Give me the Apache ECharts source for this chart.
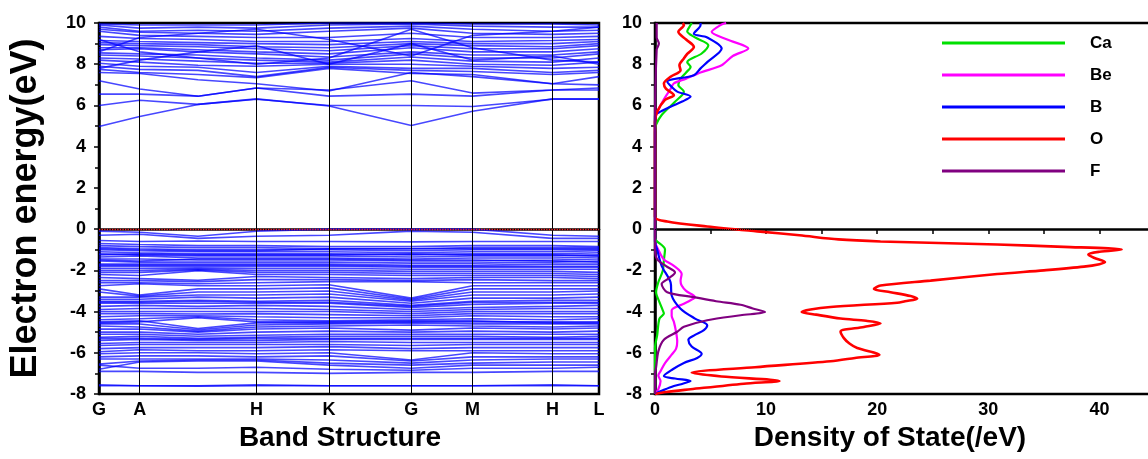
<!DOCTYPE html>
<html>
<head>
<meta charset="utf-8">
<script src="https://cdn.jsdelivr.net/npm/echarts@6/dist/echarts.min.js"></script>
<style>html,body{margin:0;padding:0;background:#fff}#c{width:1148px;height:459px}</style>
</head>
<body>
<div id="c"></div>
<script>
// k-path positions (G, A, mid A-H, H, K, G, M, H, L)
const kPos = [0, 40.7, 99, 157.5, 230, 312.3, 373.5, 453.4, 500];
const symPos = [0, 40.7, 157.5, 230, 312.3, 373.5, 453.4, 500];
const symLabels = ['G', 'A', 'H', 'K', 'G', 'M', 'H', 'L'];
const energyTicks = [-8, -6, -4, -2, 0, 2, 4, 6, 8, 10];

// conduction bands (eV) at kPos
const condBands = [
  [4.98, 5.46, 6.05, 6.32, 5.97, 5.03, 5.72, 6.32, 6.32],
  [6.0, 6.25, 6.05, 6.3, 6.0, 6.0, 5.95, 6.3, 6.3],
  [6.55, 6.55, 6.45, 6.85, 6.45, 6.55, 6.45, 6.75, 6.75],
  [7.2, 6.8, 6.45, 6.85, 6.75, 7.2, 6.6, 6.75, 6.85],
  [7.6, 7.55, 7.25, 7.05, 6.7, 7.6, 7.4, 7.05, 7.0],
  [7.75, 7.6, 7.5, 7.35, 7.8, 7.55, 7.5, 7.05, 7.4],
  [7.9, 7.75, 7.7, 7.4, 7.85, 7.7, 7.65, 7.5, 7.6],
  [8.05, 7.9, 7.85, 7.6, 7.9, 7.8, 7.8, 7.6, 7.7],
  [8.2, 8.1, 7.95, 7.9, 8.0, 8.0, 7.9, 7.8, 7.85],
  [8.3, 8.25, 8.15, 8.05, 8.05, 8.2, 8.0, 7.95, 8.1],
  [8.45, 8.4, 8.3, 8.2, 8.1, 8.35, 8.15, 8.1, 8.3],
  [8.55, 8.5, 8.45, 8.3, 8.2, 8.5, 8.3, 8.3, 8.5],
  [8.7, 8.75, 8.6, 8.5, 8.35, 8.6, 8.45, 8.45, 8.6],
  [8.8, 8.8, 8.7, 8.6, 8.5, 8.8, 8.6, 8.6, 8.75],
  [8.95, 8.9, 8.85, 8.75, 8.65, 8.9, 8.75, 8.75, 8.9],
  [9.05, 9.0, 8.95, 8.85, 8.8, 9.0, 8.9, 8.85, 9.0],
  [9.15, 9.1, 9.05, 9.0, 8.95, 9.1, 9.0, 9.0, 9.1],
  [9.35, 9.25, 9.2, 9.1, 9.1, 9.25, 9.1, 9.15, 9.2],
  [9.6, 9.4, 9.35, 9.3, 9.3, 9.5, 9.3, 9.3, 9.35],
  [9.7, 9.55, 9.5, 9.45, 9.6, 9.75, 9.5, 9.45, 9.5],
  [9.8, 9.6, 9.65, 9.6, 9.75, 9.85, 9.7, 9.6, 9.65],
  [9.9, 9.75, 9.8, 9.75, 9.9, 9.95, 9.85, 9.8, 9.8],
  [9.95, 9.9, 9.9, 9.9, 10.0, 10.0, 9.95, 9.95, 9.9],
  [9.2, 8.6, 8.3, 8.0, 8.3, 9.7, 8.8, 8.2, 8.1],
  [8.6, 9.3, 9.5, 9.7, 9.2, 8.4, 9.4, 9.6, 9.8],
  [7.8, 8.2, 8.6, 8.9, 8.0, 9.0, 8.2, 8.4, 8.0]
];

// valence bands (eV) at kPos
const valBands = [
  [-0.1, -0.15, -0.35, -0.1, 0.0, 0.0, 0.0, -0.3, -0.35],
  [-0.3, -0.25, -0.45, -0.35, -0.3, -0.1, -0.15, -0.45, -0.45],
  [-0.55, -0.6, -0.58, -0.6, -0.6, -0.62, -0.6, -0.6, -0.6],
  [-0.7, -0.75, -0.8, -0.8, -0.85, -0.85, -0.8, -0.8, -0.85],
  [-0.8, -0.85, -0.9, -0.9, -0.95, -0.95, -0.9, -0.9, -0.9],
  [-0.9, -0.95, -1.0, -1.0, -1.0, -1.05, -1.0, -1.0, -1.0],
  [-1.0, -1.05, -1.1, -1.1, -1.1, -1.15, -1.1, -1.1, -1.05],
  [-1.1, -1.15, -1.2, -1.2, -1.2, -1.25, -1.2, -1.2, -1.15],
  [-1.2, -1.25, -1.3, -1.3, -1.3, -1.35, -1.3, -1.3, -1.25],
  [-1.35, -1.3, -1.4, -1.4, -1.4, -1.45, -1.4, -1.4, -1.35],
  [-1.45, -1.45, -1.5, -1.5, -1.5, -1.55, -1.55, -1.5, -1.45],
  [-1.55, -1.6, -1.6, -1.6, -1.6, -1.65, -1.65, -1.6, -1.55],
  [-1.7, -1.7, -1.7, -1.7, -1.7, -1.75, -1.75, -1.7, -1.7],
  [-1.8, -1.8, -1.8, -1.8, -1.8, -1.85, -1.85, -1.85, -1.85],
  [-1.9, -1.9, -1.88, -1.9, -1.9, -1.95, -1.95, -1.95, -1.95],
  [-2.0, -2.0, -1.95, -2.0, -2.0, -2.05, -2.05, -2.05, -2.1],
  [-2.1, -2.1, -1.98, -2.1, -2.1, -2.15, -2.15, -2.15, -2.2],
  [-2.2, -2.25, -2.02, -2.2, -2.2, -2.25, -2.25, -2.25, -2.3],
  [-2.35, -2.4, -2.48, -2.3, -2.35, -2.4, -2.35, -2.35, -2.4],
  [-2.5, -2.5, -2.55, -2.45, -2.45, -2.5, -2.45, -2.5, -2.5],
  [-2.6, -2.6, -2.65, -2.6, -2.55, -2.55, -2.6, -2.6, -2.6],
  [-2.75, -2.65, -2.75, -2.75, -2.7, -3.35, -2.75, -2.75, -2.75],
  [-2.9, -3.2, -2.9, -2.9, -2.85, -3.4, -2.9, -2.9, -2.9],
  [-3.05, -3.25, -3.05, -3.05, -3.0, -3.45, -3.05, -3.05, -3.0],
  [-3.3, -3.3, -3.2, -3.2, -3.15, -3.5, -3.2, -3.2, -3.15],
  [-3.4, -3.4, -3.3, -3.35, -3.3, -3.6, -3.35, -3.35, -3.3],
  [-3.5, -3.5, -3.45, -3.5, -3.45, -3.7, -3.5, -3.45, -3.45],
  [-3.6, -3.6, -3.6, -3.6, -3.6, -3.8, -3.65, -3.6, -3.6],
  [-3.75, -3.7, -3.75, -3.7, -3.75, -3.9, -3.8, -3.75, -3.7],
  [-3.9, -3.85, -3.85, -3.85, -3.9, -4.0, -3.9, -3.85, -3.85],
  [-4.0, -4.0, -4.0, -4.0, -4.0, -4.1, -4.0, -4.0, -4.0],
  [-4.1, -4.1, -4.12, -4.1, -4.15, -4.2, -4.1, -4.1, -4.1],
  [-4.25, -4.2, -4.2, -4.25, -4.3, -4.3, -4.2, -4.25, -4.25],
  [-4.4, -4.35, -4.25, -4.4, -4.45, -4.4, -4.35, -4.4, -4.35],
  [-4.5, -4.45, -4.82, -4.55, -4.55, -4.5, -4.5, -4.5, -4.5],
  [-4.6, -4.6, -4.88, -4.65, -4.6, -4.55, -4.6, -4.6, -4.6],
  [-4.7, -4.75, -4.95, -4.75, -4.7, -4.65, -4.7, -4.75, -4.7],
  [-4.85, -4.85, -5.0, -4.85, -4.8, -4.9, -4.8, -4.85, -4.8],
  [-5.0, -5.0, -5.1, -5.0, -4.95, -5.0, -4.95, -5.0, -4.95],
  [-5.1, -5.1, -5.2, -5.15, -5.1, -5.1, -5.1, -5.1, -5.1],
  [-5.25, -5.2, -5.3, -5.25, -5.2, -5.2, -5.2, -5.25, -5.2],
  [-5.4, -5.35, -5.4, -5.4, -5.35, -5.35, -5.35, -5.35, -5.35],
  [-5.55, -5.5, -5.5, -5.5, -5.45, -5.5, -5.5, -5.5, -5.5],
  [-5.65, -5.6, -5.6, -5.6, -5.6, -5.65, -5.6, -5.6, -5.6],
  [-5.8, -5.75, -5.75, -5.75, -5.7, -5.8, -5.75, -5.75, -5.75],
  [-5.95, -5.85, -5.9, -5.9, -5.85, -5.9, -5.9, -5.9, -5.9],
  [-6.05, -6.0, -6.0, -6.05, -6.0, -6.35, -6.0, -6.05, -6.05],
  [-6.2, -6.15, -6.15, -6.2, -6.15, -6.4, -6.2, -6.2, -6.2],
  [-6.3, -6.3, -6.3, -6.3, -6.35, -6.5, -6.35, -6.3, -6.3],
  [-6.55, -6.4, -6.35, -6.35, -6.5, -6.6, -6.5, -6.45, -6.45],
  [-6.8, -6.45, -6.4, -6.4, -6.6, -6.75, -6.6, -6.6, -6.6],
  [-6.6, -6.75, -6.75, -6.7, -6.8, -6.85, -6.75, -6.75, -6.7],
  [-6.9, -6.9, -6.95, -6.95, -7.0, -6.95, -6.95, -6.9, -6.9],
  [-7.6, -7.6, -7.62, -7.6, -7.6, -7.6, -7.6, -7.6, -7.6],
  [-7.55, -7.6, -7.6, -7.55, -7.6, -7.6, -7.6, -7.55, -7.6],
  [-0.95, -1.0, -1.05, -1.05, -0.95, -0.95, -0.95, -0.95, -0.95],
  [-1.25, -1.2, -1.25, -1.25, -1.25, -1.2, -1.25, -1.25, -1.3],
  [-1.5, -1.55, -1.45, -1.45, -1.45, -1.5, -1.5, -1.55, -1.6],
  [-1.75, -1.75, -1.75, -1.75, -1.75, -1.8, -1.8, -1.8, -1.8],
  [-3.55, -3.55, -3.5, -3.55, -3.55, -3.75, -3.55, -3.55, -3.55],
  [-4.55, -4.5, -4.3, -4.5, -4.5, -4.45, -4.45, -4.55, -4.55],
  [-5.3, -5.3, -5.35, -5.3, -5.3, -5.3, -5.3, -5.3, -5.3]
];

// partial DOS: energies (eV) and densities (/eV)
const caE = [10, 9.9, 9.6, 9.3, 8.92, 8.52, 8.1, 7.87, 7.6, 7.3, 6.99, 6.67, 6.18, 5.54, 5.07, 4.7, -0.4, -0.55, -0.99, -1.5, -2.02, -2.58, -3.06, -3.54, -3.94, -4.1, -4.34, -5.13, -5.77, -8];
const caD = [3.3, 3.2, 2.9, 3.6, 4.8, 4.2, 2.9, 3.2, 2.8, 2.3, 2.1, 2.6, 1.8, 0.6, 0.1, 0, 0, 0.1, 0.9, 0.8, 0.7, 0.3, 0.1, 0.4, 0.7, 0.8, 0.4, 0.2, 0, 0];
const beE = [10, 9.9, 9.57, 9.2, 8.76, 8.4, 7.95, 7.6, 7.3, 7.07, 6.8, 6.3, 5.8, 5.4, -0.6, -1.0, -1.47, -1.78, -2.18, -2.5, -2.74, -3.0, -3.3, -3.45, -3.62, -3.94, -4.2, -4.5, -5.0, -5.45, -5.8, -6.09, -6.5, -6.89, -7.1, -7.37, -7.77, -8];
const beD = [6.4, 5.9, 5.1, 6.5, 8.4, 7.0, 6.0, 4.1, 2.8, 1.7, 1.4, 0.8, 0.3, 0, 0, 0.3, 0.8, 1.7, 2.4, 2.3, 2.4, 2.8, 3.6, 3.2, 2.6, 1.5, 1.5, 1.7, 1.9, 2.0, 1.9, 1.5, 0.9, 0.5, 0.3, 0.5, 0.3, 0];
const bE = [10, 9.9, 9.48, 9.3, 8.76, 8.1, 7.8, 7.47, 7.15, 6.9, 6.67, 6.43, 6.2, 5.94, 5.7, 5.5, -0.6, -1.0, -1.78, -2.58, -3.22, -3.86, -4.34, -4.66, -4.9, -5.13, -5.37, -5.7, -6.05, -6.25, -6.49, -6.8, -7.13, -7.25, -7.37, -7.5, -7.61, -7.8, -8];
const bD = [4.1, 4.1, 3.5, 4.7, 6.0, 4.7, 4.1, 3.5, 1.1, 1.5, 2.0, 3.2, 2.5, 1.4, 0.5, 0, 0, 0.2, 0.6, 1.4, 1.5, 2.3, 3.6, 4.7, 4.4, 3.6, 3.0, 3.3, 4.2, 3.8, 2.6, 1.6, 0.8, 1.8, 3.2, 2.5, 1.7, 0.8, 0];
const oE = [10, 9.9, 9.57, 9.2, 8.84, 8.5, 8.28, 7.95, 7.71, 7.39, 7.07, 6.8, 6.5, 6.27, 5.7, 5.2, 0.6, 0.37, 0.13, -0.11, -0.3, -0.5, -0.6, -0.75, -0.86, -0.99, -1.1, -1.23, -1.39, -1.6, -1.7, -1.82, -2.0, -2.18, -2.5, -2.74, -2.9, -3.06, -3.25, -3.38, -3.5, -3.57, -3.78, -3.9, -4.02, -4.15, -4.34, -4.45, -4.57, -4.75, -4.97, -5.29, -5.55, -5.77, -6.09, -6.25, -6.41, -6.7, -6.97, -7.15, -7.37, -7.5, -7.77, -7.9, -8];
const oD = [2.5, 2.6, 2.1, 2.8, 3.5, 2.9, 2.6, 2.2, 2.3, 1.4, 0.8, 1.0, 1.7, 0.9, 0.2, 0, 0, 1.1, 4.7, 9.2, 13, 16.5, 20.3, 30.8, 36.8, 42, 40, 39, 39.5, 40.5, 40, 38.6, 35, 30.8, 24.8, 20.3, 19.7, 21.2, 23, 23.6, 22.5, 21.8, 15.8, 14, 13.2, 14.5, 16.7, 19, 20.3, 18.8, 16.7, 17, 17.5, 18.2, 20.2, 18, 15.8, 9, 3.3, 6, 11.2, 8, 3.2, 1.0, 0];
const fE = [10, 9.3, 9.0, 8.7, 5.0, -0.99, -1.47, -1.8, -2.1, -2.4, -2.66, -3.06, -3.3, -3.5, -3.67, -3.85, -4.02, -4.18, -4.42, -4.74, -4.98, -5.37, -5.93, -6.7, -7.0, -8];
const fD = [0.15, 0.15, 0.35, 0.15, 0, 0, 0.2, 1.0, 1.8, 1.2, 0.6, 1.1, 3.5, 5.5, 7.7, 8.8, 9.9, 7.7, 4.7, 2.6, 2.0, 0.8, 0.3, 0.1, 0, 0];

const species = [
  {name: 'Ca', E: caE, D: caD, color: '#00e000'},
  {name: 'Be', E: beE, D: beD, color: '#ff00ff'},
  {name: 'B', E: bE, D: bD, color: '#0000ff'},
  {name: 'O', E: oE, D: oD, color: '#ff0000'},
  {name: 'F', E: fE, D: fD, color: '#800080'}
];

const FONT = '"Liberation Sans", Arial, sans-serif';
const tickLabel = {fontFamily: FONT, fontWeight: 'bold', fontSize: 18, color: '#000'};
const blackLine = {color: '#000', width: 2.5};

const series = [];
condBands.concat(valBands).forEach(function (b) {
  series.push({
    type: 'line', xAxisIndex: 0, yAxisIndex: 0, symbol: 'none', silent: true,
    lineStyle: {color: '#0000ff', width: 1.6, opacity: 0.72},
    data: b.map(function (e, i) { return [kPos[i], e]; })
  });
});
// high symmetry lines and Fermi level
series.push({
  type: 'line', xAxisIndex: 0, yAxisIndex: 0, symbol: 'none', silent: true, data: [], z: 5,
  markLine: {
    silent: true, symbol: 'none', label: {show: false},
    data: symPos.slice(1, -1).map(function (p) {
      return {xAxis: p, lineStyle: {color: '#000', width: 1, type: 'solid'}};
    }).concat([{yAxis: 0, lineStyle: {color: '#ff2020', width: 1.3, type: 'dotted'}}])
  }
});
species.forEach(function (s) {
  series.push({
    name: s.name, type: 'line', xAxisIndex: 1, yAxisIndex: 1, symbol: 'none', smooth: 0.3,
    color: s.color,
    lineStyle: {color: s.color, width: s.name === 'O' ? 2.6 : 2.2},
    data: s.E.map(function (e, i) { return [s.D[i], e]; })
  });
});
series.push({
  type: 'line', xAxisIndex: 1, yAxisIndex: 1, symbol: 'none', silent: true, data: [],
  markLine: {silent: true, symbol: 'none', label: {show: false},
    data: [{yAxis: 0, lineStyle: {color: '#000', width: 1, type: 'dotted'}}]}
});

function yAxisCfg(grid, withName) {
  const ax = {
    gridIndex: grid, type: 'value', min: -8, max: 10, interval: 2,
    axisLine: {show: true, lineStyle: blackLine},
    axisTick: {show: true, inside: false, length: 5, lineStyle: {color: '#000', width: 1.5}},
    minorTick: {show: true, splitNumber: 2, length: 4, lineStyle: {color: '#000', width: 1.5}},
    splitLine: {show: false},
    axisLabel: Object.assign({margin: 13, customValues: energyTicks}, tickLabel)
  };
  if (withName) {
    ax.name = 'Electron energy(eV)';
    ax.nameLocation = 'middle';
    ax.nameGap = 55;
    ax.nameTextStyle = {fontFamily: FONT, fontWeight: 'bold', fontSize: 36, color: '#000'};
  }
  return ax;
}

const option = {
  animation: false,
  backgroundColor: '#fff',
  grid: [
    {left: 99, top: 23, width: 500, height: 371, show: true, borderColor: '#000', borderWidth: 2.5, outerBoundsMode: 'none', containLabel: false},
    {left: 655, top: 23, width: 500, height: 371, show: true, borderColor: '#000', borderWidth: 2.5, outerBoundsMode: 'none', containLabel: false}
  ],
  legend: {
    data: species.map(function (s) { return s.name; }),
    orient: 'vertical', left: 942, top: 33, padding: 0,
    icon: 'rect', itemWidth: 123, itemHeight: 3, itemGap: 12,
    textStyle: {fontFamily: FONT, fontWeight: 'bold', fontSize: 17, color: '#000', lineHeight: 20, padding: [0, 0, 0, 20]}
  },
  xAxis: [
    {
      gridIndex: 0, type: 'value', min: 0, max: 500,
      axisLine: {show: true, lineStyle: blackLine},
      axisTick: {show: false}, splitLine: {show: false},
      axisLabel: Object.assign({
        margin: 7, customValues: symPos,
        formatter: function (v) { const i = symPos.indexOf(v); return i >= 0 ? symLabels[i] : ''; }
      }, tickLabel),
      name: 'Band Structure', nameLocation: 'middle', nameGap: 30,
      nameTextStyle: {fontFamily: FONT, fontWeight: 'bold', fontSize: 28, color: '#000', padding: [0, 18, 0, 0]}
    },
    {
      gridIndex: 1, type: 'value', min: 0, max: 45, interval: 10,
      axisLine: {show: true, lineStyle: blackLine},
      axisTick: {show: true, inside: false, length: 5, lineStyle: {color: '#000', width: 1.5}},
      minorTick: {show: true, splitNumber: 2, length: 5, lineStyle: {color: '#000', width: 1.5}},
      splitLine: {show: false},
      axisLabel: Object.assign({margin: 7, showMaxLabel: false}, tickLabel),
      name: 'Density of State(/eV)', nameLocation: 'middle', nameGap: 30,
      nameTextStyle: {fontFamily: FONT, fontWeight: 'bold', fontSize: 28, color: '#000', padding: [0, 30, 0, 0]}
    }
  ],
  yAxis: [yAxisCfg(0, true), yAxisCfg(1, false)],
  series: series
};

const chart = echarts.init(document.getElementById('c'), null, {renderer: 'canvas'});
chart.setOption(option);
</script>
</body>
</html>
